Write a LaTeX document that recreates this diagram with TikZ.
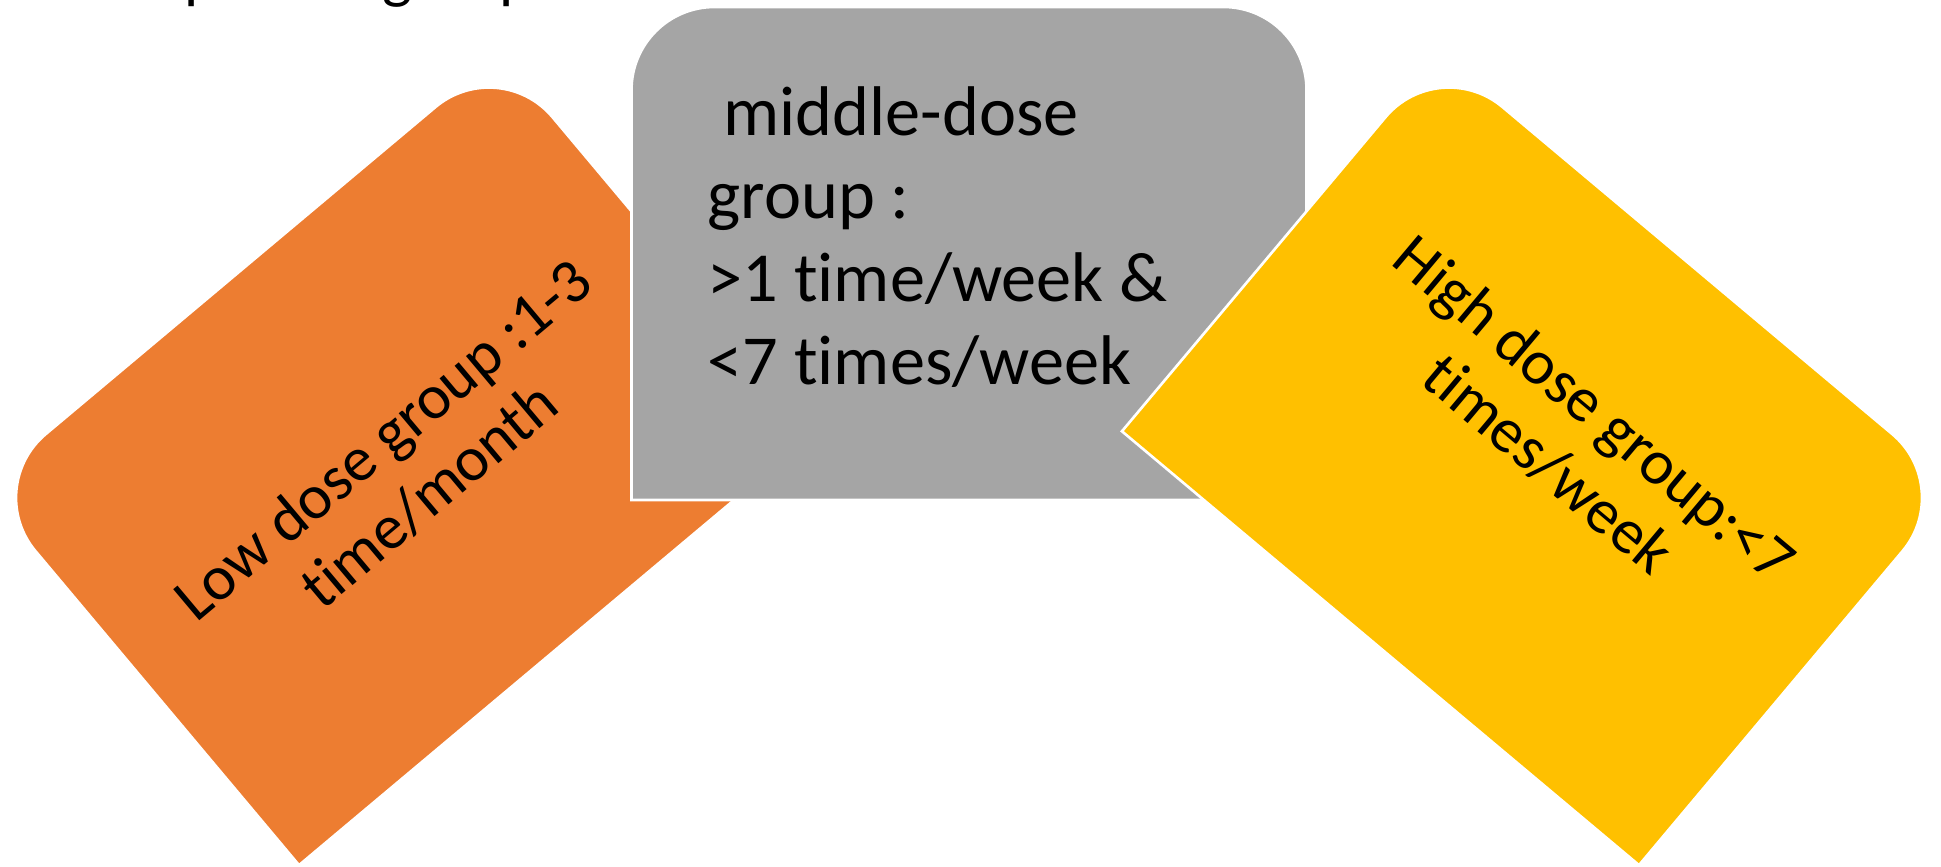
\documentclass[tikz,border=0pt]{standalone}
\usepackage{fontspec}
\setmainfont{Carlito}[Ligatures={NoCommon,NoContextual}]
\definecolor{dOrange}{HTML}{ED7D31}
\definecolor{dGray}{HTML}{A5A5A5}
\definecolor{dYellow}{HTML}{FFC000}
\tikzset{
  doseshape/.style={fill=#1, draw=white, line width=0.75pt},
  bigtext/.style={font=\fontsize{20}{23.6}\selectfont, inner sep=0pt, text=black},
  rottext/.style={font=\fontsize{18}{21.5}\selectfont, inner sep=0pt, anchor=base, text=black},
}
\newcommand\doseshape[1]{%
  \path[doseshape=#1] (-3.375,-2.465) -- (-3.375,1.635)
    arc[start angle=180,end angle=90,radius=0.83] -- (2.545,2.465)
    arc[start angle=90,end angle=0,radius=0.83] -- (3.375,-2.465) -- cycle;}
\begin{document}
\begin{tikzpicture}
\useasboundingbox (0,0) rectangle (19.41,8.67);
\clip (0,0) rectangle (19.41,8.67);
\fill[white] (0,0) rectangle (19.41,8.67);
% cut-off title line (only descenders visible)
\node[rottext, anchor=base west] (title) at (0.66,8.70) {Compliance group};
% low dose
\begin{scope}[shift={(3.991,4.076)}, rotate=40, transform shape]
  \doseshape{dOrange}
  \node[rottext] (low1) at (0,0.05) {Low dose group :1-3};
  \node[rottext] (low2) at (0,-0.67) {time/month};
\end{scope}
% middle dose
\begin{scope}[shift={(9.69,6.135)}]
  \doseshape{dGray}
\end{scope}
\node[bigtext, anchor=base west] (mid) at (7.07,7.31)
  {\vtop{\hbox{\ middle-dose}\hbox{group :}\hbox{>1 time/week \&}\hbox{<7 times/week}}};
% high dose
\begin{scope}[shift={(15.389,4.076)}, rotate=-40, transform shape]
  \doseshape{dYellow}
  \node[rottext] (high1) at (0.10,0.54) {High dose group:<7};
  \node[rottext] (high2) at (0.10,-0.18) {times/week};
\end{scope}
\end{tikzpicture}
\end{document}
